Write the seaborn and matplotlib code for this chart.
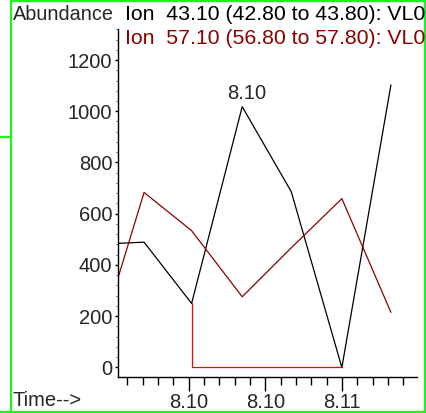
import matplotlib
matplotlib.use('Agg')
import matplotlib.pyplot as plt
from matplotlib.ticker import MultipleLocator
from matplotlib.lines import Line2D
import seaborn as sns
import pandas as pd

# values (time in min, abundance)
times = [8.0938, 8.0971, 8.1002, 8.1035, 8.1067, 8.1100, 8.1132]
ion_43 = [480, 489, 250, 1018, 686, 0, 1103]
ion_57 = [36, 683, 534, 276, 467, 659, 215]
base_times = [8.1002, 8.1002, 8.1100]
base_vals = [250, 0, 0]
peak_time = 8.1035
peak_val = 1018
peak_label = '8.10'
xtick_pos = [8.100, 8.105, 8.110]
xtick_labels = ['8.10', '8.10', '8.11']
ytick_pos = [0, 200, 400, 600, 800, 1000, 1200]
title_43 = 'Ion  43.10 (42.80 to 43.80): VL0'
title_57 = 'Ion  57.10 (56.80 to 57.80): VL0'

sns.set_style('ticks')
plt.rcParams['font.family'] = ['Liberation Sans', 'DejaVu Sans']

W, H = 427, 413
fig = plt.figure(figsize=(W / 100, H / 100), dpi=100)
ax = fig.add_axes([118 / W, 1 - 376.7 / H, (417 - 118) / W, (376.7 - 29) / H])

df = pd.DataFrame({'time': times, 'ion43': ion_43, 'ion57': ion_57})
base = pd.DataFrame({'time': base_times, 'val': base_vals})

sns.lineplot(data=df, x='time', y='ion43', color='black', lw=0.9, ax=ax,
             sort=False, estimator=None)
sns.lineplot(data=df, x='time', y='ion57', color='#8c0000', lw=0.9, ax=ax,
             sort=False, estimator=None)
sns.lineplot(data=base, x='time', y='val', color='#ff0000', lw=0.9, ax=ax,
             sort=False, estimator=None)

ax.set_xlim(8.0954, 8.1149)
ax.set_ylim(-36, 1321)
ax.set_xlabel('')
ax.set_ylabel('')
sns.despine(ax=ax)
for s in ['left', 'bottom']:
    ax.spines[s].set_linewidth(1.0)
    ax.spines[s].set_color('black')

ax.set_xticks(xtick_pos, labels=xtick_labels)
ax.xaxis.set_minor_locator(MultipleLocator(0.001))
ax.set_yticks(ytick_pos)
ax.yaxis.set_minor_locator(MultipleLocator(40))
ax.tick_params(axis='x', which='major', length=10, width=1, pad=2,
               labelsize=14.5, color='black')
ax.tick_params(axis='x', which='minor', length=5.5, width=1, color='black')
ax.tick_params(axis='y', which='major', length=2.5, width=1, pad=1.5,
               labelsize=14.5, color='black')
ax.tick_params(axis='y', which='minor', length=1.5, width=0.6, color='#444444')

ax.annotate(peak_label, (peak_time, peak_val), xytext=(3.5, 2.5),
            textcoords='offset points', ha='center', va='bottom', fontsize=14.5)

fig.text(13 / W, 1 - 15 / H, 'Abundance', fontsize=14.3, va='center', ha='left')
fig.text(125 / W, 1 - 15 / H, title_43, fontsize=15.3, va='center', ha='left',
         color='black')
fig.text(125 / W, 1 - 38.5 / H, title_57, fontsize=15.3, va='center', ha='left',
         color='#8c0000')
fig.text(13 / W, 1 - 400 / H, 'Time-->', fontsize=14.5, va='center', ha='left')

# green frame around the panel
green = '#22f022'
for xs, ys in [([11, 11], [0, H]), ([425.5, 425.5], [0, H]),
               ([11, 425.5], [0.8, 0.8]), ([0, W], [411.5, 411.5]),
               ([0, 11], [137, 137])]:
    fig.add_artist(Line2D([x / W for x in xs], [1 - y / H for y in ys],
                          transform=fig.transFigure, color=green, lw=1.6))

fig.savefig('out.png', dpi=100)
